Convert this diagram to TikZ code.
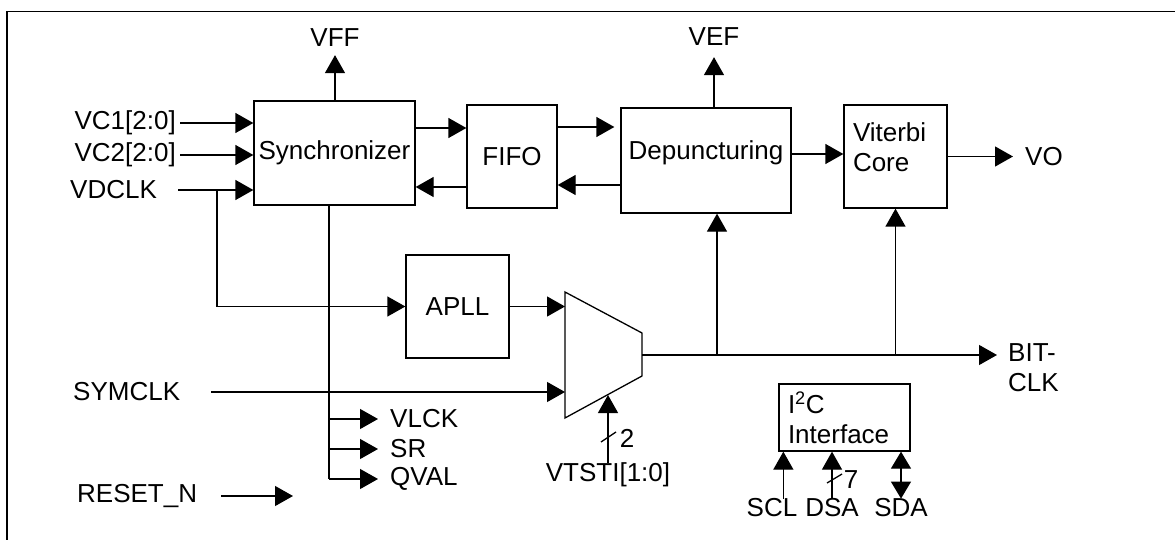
\documentclass[tikz,border=0pt]{standalone}
\usepackage{fontspec}
\setmainfont{Liberation Sans}
\usepackage{tikz}
\usetikzlibrary{arrows.meta,positioning,calc}

\begin{document}
\begin{tikzpicture}[x=1pt, y=-1pt,
    font=\fontsize{26}{30}\selectfont,
    blk/.style={draw, line width=1.3pt},
    lbl/.style={inner sep=0pt},
    wire/.style={line width=1.3pt},
    sig/.style={wire, -{Triangle[length=18pt, width=20pt]}},
    bidir/.style={wire, {Triangle[length=17pt, width=20pt]}-{Triangle[length=17pt, width=20pt]}}]
  \useasboundingbox (0,0) rectangle (1175,540);
  \draw[line width=1.5pt] (7,540) |- (1175,11.5);

  % blocks
  \node[blk, minimum width=161pt, minimum height=104pt] (sync) at (334.5,153) {Synchronizer};
  \node[blk, minimum width=90pt, minimum height=103pt] (fifo) at (512,156.5) {FIFO};
  \node[blk, minimum width=170pt, minimum height=105pt, text depth=20pt] (dep) at (706,160.5) {Depuncturing};
  \node[blk, minimum width=103pt, minimum height=103pt, text width=85pt, align=left, text depth=49pt] (vit) at (895.5,156.5) {Viterbi\\Core};
  \node[blk, minimum width=103pt, minimum height=103pt] (apll) at (457.5,306.5) {APLL};
  \node[blk, minimum width=131pt, minimum height=67pt, text width=113pt, align=left] (i2c) at (844.5,417.5) {I\textsuperscript{2}C\\Interface};

  % mux
  \draw[wire] (565,292) -- (642,333) -- (642,376) -- (565,418) -- cycle;
  \coordinate (muxa) at (565,307);
  \coordinate (muxb) at (565,392);
  \coordinate (muxo) at (642,355);
  \coordinate (muxs) at (608,395);

  % pins
  \node[lbl] (vff) at (335,38) {VFF};
  \node[lbl] (vef) at (714,37) {VEF};
  \node[lbl, anchor=east] (vc1) at (176,123) {VC1[2:0]};
  \node[lbl, anchor=east] (vc2) at (176,155) {VC2[2:0]};
  \node[lbl, anchor=west] (vdclk) at (70,190) {VDCLK};
  \node[lbl, anchor=west] (symclk) at (73,392) {SYMCLK};
  \node[lbl, anchor=west] (rstn) at (77,496) {RESET\_N};
  \node[lbl, anchor=west] (vlck) at (390,419) {VLCK};
  \node[lbl, anchor=west] (sr) at (390,449) {SR};
  \node[lbl, anchor=west] (qval) at (390,479) {QVAL};
  \node[lbl] (vtsti) at (608,475) {VTSTI[1:0]};
  \node[lbl] (selw) at (627,438) {2};
  \node[lbl, anchor=west] (vo) at (1025,157) {VO};
  \node[lbl, anchor=west, align=left] (bitclk) at (1008,368) {BIT-\\CLK};
  \node[lbl] (scl) at (772,508) {SCL};
  \node[lbl] (dsa) at (832,508) {DSA};
  \node[lbl] (sda) at (901,508) {SDA};
  \node[lbl] (dsaw) at (851,480) {7};
  \coordinate (vdbr) at (217,190);
  \coordinate (rstend) at (293,496);
  \coordinate (stap) at ([xshift=-5.5pt]sync.south);
  \coordinate (scltip) at ([xshift=5pt]i2c.south west);

  % inputs
  \draw[sig] ([xshift=4pt]vc1.east) -- (vc1 -| sync.west);
  \draw[sig] ([xshift=4pt]vc2.east) -- (vc2 -| sync.west);
  \draw[sig] ([xshift=21pt]vdclk.east) -- (vdclk -| sync.west);
  \draw[sig] (vdbr) |- (apll.west);
  \draw[sig] ([xshift=31pt]symclk.east) -- (muxb);
  \draw[sig] ([xshift=24pt]rstn.east) -- (rstend);

  % data path
  \draw[sig] ([yshift=25pt]sync.east) -- ([yshift=25pt]sync.east -| fifo.west);
  \draw[sig] ([yshift=-30.5pt]fifo.west) -- ([yshift=-30.5pt]fifo.west -| sync.east);
  \draw[sig, shorten >=6pt] ([yshift=29.5pt]fifo.east) -- ([yshift=29.5pt]fifo.east -| dep.west);
  \draw[sig] ([yshift=-24.5pt]dep.west) -- ([yshift=-24.5pt]dep.west -| fifo.east);
  \draw[sig] ([yshift=6.5pt]dep.east) -- ([yshift=6.5pt]dep.east -| vit.west);
  \draw[sig, shorten >=12pt] (vit.east) -- (vit.east -| vo.west);
  \draw[sig, shorten >=8pt] (sync.north -| vff) -- (vff.south);
  \draw[sig, shorten >=11pt] (dep.north -| vef) -- (vef.south);

  % status outputs
  \draw[wire] (stap) -- (stap |- qval);
  \draw[sig, shorten >=12pt] (stap |- vlck) -- (vlck.west);
  \draw[sig, shorten >=12pt] (stap |- sr) -- (sr.west);
  \draw[sig, shorten >=12pt] (stap |- qval) -- (qval.west);

  % clock
  \draw[sig] (apll.east) -- (apll.east -| muxa);
  \draw[sig, shorten >=11pt] (muxo) -- (muxo -| bitclk.west);
  \draw[sig] ([xshift=11pt]dep.south |- muxo) -- ([xshift=11pt]dep.south);
  \draw[sig] (vit.south |- muxo) -- (vit.south);
  \draw[sig] (vtsti.north) -- (muxs);
  \draw[wire] (601,442) -- (616,432);

  % i2c pins
  \draw[sig] (scl.north -| scltip) -- (scltip);
  \draw[sig] (dsa.north) -- (dsa.north |- i2c.south);
  \draw[bidir] (sda.north) -- (sda.north |- i2c.south);
  \draw[wire] (827,483) -- (842,474);
\end{tikzpicture}
\end{document}
